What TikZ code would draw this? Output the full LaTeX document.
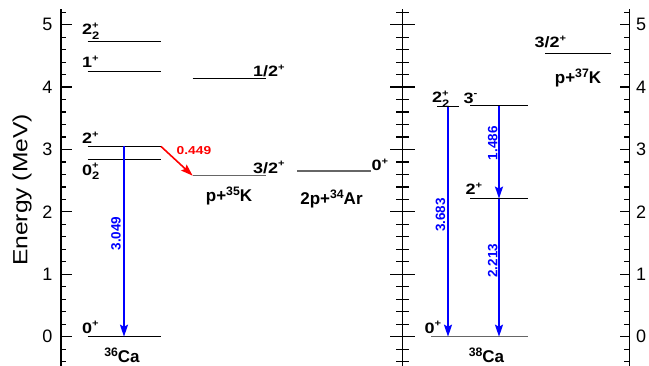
\documentclass[tikz,border=0pt]{standalone}
\usepackage{fontspec}
\setmainfont{Liberation Sans}
\newfontfamily\lab{Liberation Sans}[FakeStretch=1.2]
\usetikzlibrary{arrows.meta}
\definecolor{pblue}{RGB}{0,0,255}
\definecolor{pred}{RGB}{255,0,0}
\newcommand\upsc[1]{\raisebox{0.42em}{\scalebox{0.62}{#1}}}
\newcommand\nsup[1]{\raisebox{0.36em}{\scalebox{0.72}{#1}}}
\newcommand\dnsc[1]{\raisebox{-0.3em}{\scalebox{0.72}{#1}}}
\newcommand\spinss[3]{#1\rlap{\upsc{#3}}\dnsc{#2}}
\tikzset{
  lvl/.style={line width=1pt, black},
  glvl/.style={line width=1.3pt, black!60},
  axln/.style={line width=1.2pt, black},
  spin/.style={font=\lab\bfseries\fontsize{15}{15}\selectfont, inner sep=0pt, anchor=base west},
  nuc/.style={font=\bfseries\fontsize{17}{17}\selectfont, inner sep=0pt, anchor=base},
  trans/.style={line width=1.6pt, -{Stealth[length=12pt,width=8pt,inset=2pt]}},
  elab/.style={font=\bfseries\fontsize{13.5}{13.5}\selectfont, inner sep=0pt, pblue, rotate=90, anchor=base},
  axnum/.style={font=\fontsize{18}{18}\selectfont, inner sep=0pt},
}
\begin{document}
\begin{tikzpicture}[x=1pt,y=62.4pt]
\useasboundingbox (0,-29.3pt) rectangle (649,336.7pt);
% ---- axes ----
\draw[axln] (61,-0.47) -- (61,5.25);
\draw[axln] (402.7,-0.47) -- (402.7,5.25);
\draw[axln] (629.5,-0.47) -- (629.5,5.25);
\foreach \i in {-2,...,26} {
  \draw[axln] (61,{\i/5}) -- ++(5,0);
  \draw[axln] (396,{\i/5}) -- ++(13.4,0);
  \draw[axln] (629.5,{\i/5}) -- ++(-5.5,0);
}
\foreach \i in {0,...,5} {
  \draw[axln] (61,\i) -- ++(11,0);
  \draw[axln] (390.2,\i) -- ++(25,0);
  \draw[axln] (629.5,\i) -- ++(-10,0);
  \node[axnum,anchor=east] (ln\i) at (52.5,\i) {\i};
  \node[axnum,anchor=west] (rn\i) at (636,\i) {\i};
}
\node[font=\lab\fontsize{20.5}{20.5}\selectfont, rotate=90, anchor=center] (ylab) at (22,2.35) {Energy (MeV)};
% ---- 36Ca ----
\draw[lvl] (87.5,0) coordinate (a0L) -- (161,0) coordinate (a0R);
\draw[lvl] (87.5,2.843) coordinate (a02L) -- (161,2.843) coordinate (a02R);
\draw[lvl] (87.5,3.049) coordinate (a2L) -- (161,3.049) coordinate (a2R);
\draw[lvl] (87.5,4.247) coordinate (a1L) -- (161,4.247) coordinate (a1R);
\draw[lvl] (87.5,4.728) coordinate (a22L) -- (161,4.728) coordinate (a22R);
\node[spin] (sa22) at (82,4.835) {\spinss{2}{2}{+}};
\node[spin] (sa1) at (82,4.306) {1\upsc{+}};
\node[spin] (sa2) at (82,3.099) {2\upsc{+}};
\node[spin] (sa02) at (82,2.591) {\spinss{0}{2}{+}};
\node[spin] (sa0) at (82,0.059) {0\upsc{+}};
\node[nuc] (ca36) at (122,-0.42) {\nsup{36}Ca};
\coordinate (t1a) at (124,3.049);
\coordinate (t1b) at (124,0);
\draw[trans,pblue] (t1a) -- (t1b);
\node[elab] (e1) at (120.7,1.654) {3.049};
% ---- p+35K ----
\draw[glvl] (192.7,2.58) coordinate (k32L) -- (266,2.58) coordinate (k32R);
\draw[lvl] (192.7,4.13) coordinate (k12L) -- (266,4.13) coordinate (k12R);
\node[spin] (sk32) at (253,2.623) {3/2\upsc{+}};
\node[spin] (sk12) at (253,4.167) {1/2\upsc{+}};
\node[nuc] (k35) at (229,2.167) {p+\nsup{35}K};
\draw[trans,pred] (a2R) -- (k32L);
\node[font=\lab\bfseries\fontsize{11.5}{11.5}\selectfont, inner sep=0pt, anchor=base west, pred] (e0) at (176.5,2.912) {0.449};
% ---- 2p+34Ar ----
\draw[glvl] (297,2.655) coordinate (arL) -- (370.5,2.655) coordinate (arR);
\node[spin] (sar) at (371.5,2.66) {0\upsc{+}};
\node[nuc] (ar34) at (331.5,2.111) {2p+\nsup{34}Ar};
% ---- 38Ca ----
\draw[glvl] (431,0) coordinate (b0L) -- (527.5,0) coordinate (b0R);
\draw[lvl] (470,2.213) coordinate (b2L) -- (527.5,2.213) coordinate (b2R);
\draw[lvl] (470,3.699) coordinate (b3L) -- (527.5,3.699) coordinate (b3R);
\draw[lvl] (437,3.683) coordinate (b22L) -- (459,3.683) coordinate (b22R);
\node[spin] (sb22) at (432,3.75) {\spinss{2}{2}{+}};
\node[spin] (sb3) at (463.5,3.745) {3\upsc{-}};
\node[spin] (sb2) at (465.5,2.271) {2\upsc{+}};
\node[spin] (sb0) at (424.5,0.059) {0\upsc{+}};
\node[nuc] (ca38) at (486.5,-0.42) {\nsup{38}Ca};
\coordinate (t2a) at (448,3.683);
\coordinate (t2b) at (448,0);
\coordinate (t3a) at (499,3.699);
\coordinate (t3b) at (499,2.213);
\coordinate (t4a) at (499,2.213);
\coordinate (t4b) at (499,0);
\draw[trans,pblue] (t2a) -- (t2b);
\draw[trans,pblue] (t3a) -- (t3b);
\draw[trans,pblue] (t4a) -- (t4b);
\node[elab] (e2) at (445,1.95) {3.683};
\node[elab] (e3) at (497.3,3.099) {1.486};
\node[elab] (e4) at (497.3,1.216) {2.213};
% ---- p+37K ----
\draw[lvl] (545,4.54) coordinate (k37L) -- (610.7,4.54) coordinate (k37R);
\node[spin] (sk37) at (534.5,4.627) {3/2\upsc{+}};
\node[nuc] (k37) at (578,4.06) {p+\nsup{37}K};
\end{tikzpicture}
\end{document}
